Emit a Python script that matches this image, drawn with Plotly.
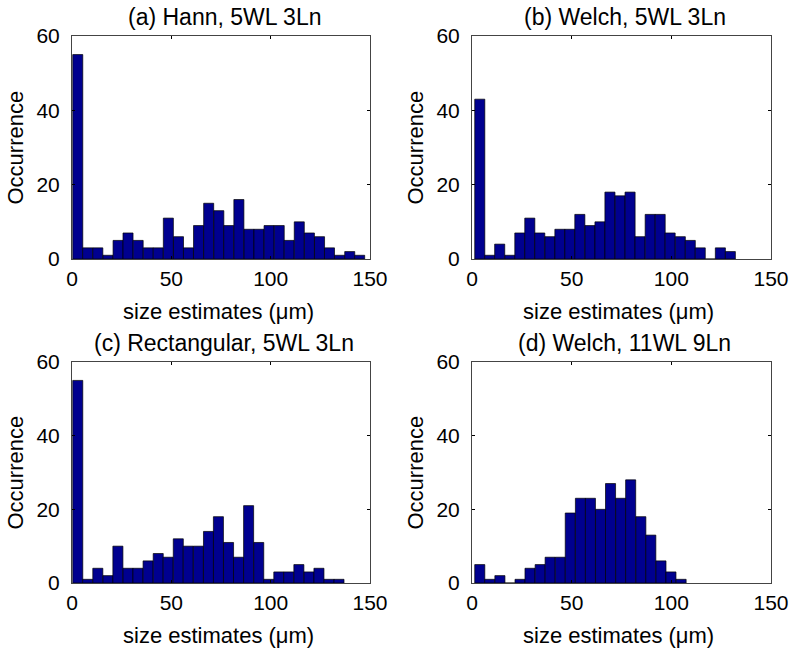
import plotly.graph_objects as go

# ---------------- data ----------------
titles = ["(a) Hann, 5WL 3Ln", "(b) Welch, 5WL 3Ln",
          "(c) Rectangular, 5WL 3Ln", "(d) Welch, 11WL 9Ln"]

centers_a = [2.9, 7.9, 13.0, 18.1, 23.2, 28.2, 33.3, 38.4, 43.4, 48.5,
             53.6, 58.6, 63.7, 68.8, 73.9, 78.9, 84.0, 89.1, 94.1, 99.2,
             104.3, 109.3, 114.4, 119.5, 124.6, 129.6, 134.7, 139.8, 144.8]
counts_a = [55, 3, 3, 1, 5, 7, 5, 3, 3, 11, 6, 3, 9, 15, 13, 9, 16, 8, 8, 9,
            9, 5, 10, 7, 6, 3, 1, 2, 1]

centers_b = [3.9, 8.9, 13.9, 19.0, 24.0, 29.0, 34.0, 39.1, 44.1, 49.1,
             54.1, 59.2, 64.2, 69.2, 74.3, 79.3, 84.3, 89.4, 94.4, 99.4,
             104.5, 109.5, 114.5, 119.6, 124.6, 129.6]
counts_b = [43, 1, 4, 1, 7, 11, 7, 6, 8, 8, 12, 9, 10, 18, 17, 18, 6, 12, 12,
            7, 6, 5, 3, 0, 3, 2]

centers_c = [2.9, 7.9, 13.0, 18.1, 23.1, 28.2, 33.2, 38.3, 43.4, 48.4,
             53.5, 58.5, 63.6, 68.7, 73.7, 78.8, 83.8, 88.9, 94.0, 99.0,
             104.1, 109.1, 114.2, 119.3, 124.3, 129.4, 134.4]
counts_c = [55, 1, 4, 2, 10, 4, 4, 6, 8, 7, 12, 10, 10, 14, 18, 11, 7, 21, 11,
            1, 3, 3, 5, 3, 4, 1, 1]

centers_d = [3.9, 8.9, 14.0, 19.0, 24.1, 29.1, 34.2, 39.2, 44.3, 49.3,
             54.4, 59.4, 64.5, 69.5, 74.6, 79.6, 84.7, 89.7, 94.8, 99.8, 104.9]
counts_d = [5, 1, 2, 0, 1, 4, 5, 7, 7, 19, 23, 23, 20, 27, 23, 28, 18, 13, 6,
            3, 1]

bin_width = 5.05
x_ticks = [0, 50, 100, 150]
y_ticks = [0, 20, 40, 60]
x_label = "size estimates (μm)"
y_label = "Occurrence"

# ---------------- layout geometry ----------------
W, H = 795, 651
FONT = "Liberation Sans, Arial, sans-serif"
BAR_COLOR = "rgb(0,0,143)"

panels = [
    (centers_a, counts_a, (72, 370), (36, 259)),
    (centers_b, counts_b, (472, 771), (36, 259)),
    (centers_c, counts_c, (72, 370), (362, 583)),
    (centers_d, counts_d, (472, 771), (362, 583)),
]


def px(x):
    return x / W


def py(y):
    return 1 - y / H


fig = go.Figure()
annotations = []
layout_axes = {}

for i, (cx, cnt, (x0, x1), (y0, y1)) in enumerate(panels):
    n = "" if i == 0 else str(i + 1)
    fig.add_trace(go.Bar(
        x=cx, y=cnt, width=bin_width,
        marker=dict(color=BAR_COLOR, line=dict(color="black", width=0.7)),
        xaxis="x" + n, yaxis="y" + n, showlegend=False,
    ))
    common = dict(
        showline=True, linecolor="#444", linewidth=1, mirror="ticks",
        ticks="inside", ticklen=3, tickcolor="black", tickwidth=1,
        showgrid=False, zeroline=False, automargin=False,
        tickfont=dict(family=FONT, size=21, color="black"),
    )
    layout_axes["xaxis" + n] = dict(
        common, domain=[px(x0), px(x1)], range=[0, 150],
        tickvals=x_ticks, anchor="y" + n, ticklabelstandoff=1,
    )
    layout_axes["yaxis" + n] = dict(
        common, domain=[py(y1), py(y0)], range=[0, 60],
        tickvals=y_ticks, anchor="x" + n, ticklabelstandoff=7,
    )
    # panel title
    annotations.append(dict(
        text=titles[i], x=px((x0 + x1) / 2 + 3), y=py(y0 - 19),
        xref="paper", yref="paper", xanchor="center", yanchor="middle",
        showarrow=False, font=dict(family=FONT, size=23, color="black"),
    ))
    # x-axis title
    annotations.append(dict(
        text=x_label, x=px((x0 + x1) / 2 - 3), y=py(y1 + 52),
        xref="paper", yref="paper", xanchor="center", yanchor="middle",
        showarrow=False, font=dict(family=FONT, size=22, color="black"),
    ))
    # y-axis title
    annotations.append(dict(
        text=y_label, x=px(x0 - 57), y=py((y0 + y1) / 2),
        xref="paper", yref="paper", xanchor="center", yanchor="middle",
        textangle=-90, showarrow=False,
        font=dict(family=FONT, size=22, color="black"),
    ))

fig.update_layout(
    width=W, height=H,
    margin=dict(l=0, r=0, t=0, b=0),
    paper_bgcolor="white", plot_bgcolor="white",
    bargap=0, annotations=annotations,
    hovermode=False,
    **layout_axes,
)

# remove the default page margin so the figure sits at the window's corner
fig.write_html(
    "out.html",
    config={"displayModeBar": False, "staticPlot": True},
    post_script=("document.body.style.margin='0';"
                 "document.body.style.overflow='hidden';"
                 "document.documentElement.style.overflow='hidden';"),
)
